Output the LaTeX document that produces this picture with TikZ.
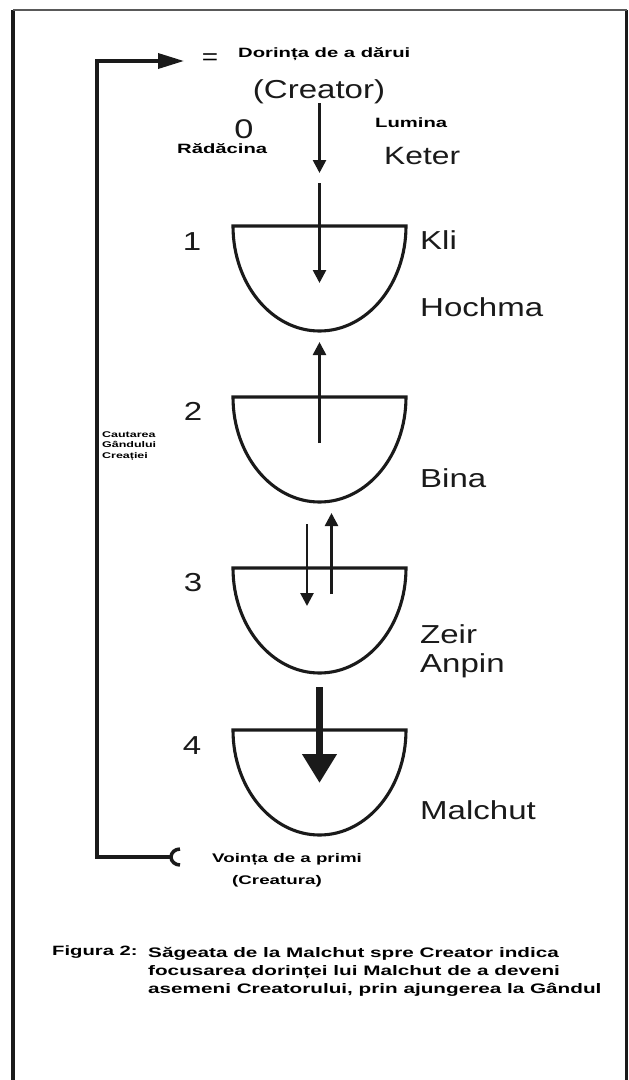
\documentclass[tikz,border=0pt]{standalone}
\usepackage{fontspec}
\setmainfont{Liberation Sans}[FakeStretch=1.27]
\newfontfamily\lblfont{Liberation Sans}[FakeStretch=1.5]
\usetikzlibrary{arrows.meta}
\definecolor{ink}{HTML}{1A1A1A}

\begin{document}
\begin{tikzpicture}[x=1pt, y=-1pt,
    big/.style={font=\fontsize{26}{29}\selectfont, inner sep=0pt, text=ink},
    lbl/.style={font=\lblfont\bfseries\fontsize{13.5}{18}\selectfont, inner sep=0pt},
    tiny/.style={font=\lblfont\bfseries\fontsize{8.3}{10.5}\selectfont, inner sep=0pt},
    cupline/.style={draw=ink, line width=3.1},
    ray/.style={draw=ink, line width=2.6, -{Triangle[length=13pt, width=13pt]}},
    loopline/.style={draw=ink, line width=3.5}
]
    \useasboundingbox (0,0) rectangle (629,1080);

    % frame
    \draw[draw=ink, line width=3.3] (13,10) -- (13,1080);
    \draw[draw=ink, line width=3.3] (626.5,10) -- (626.5,1080);
    \draw[draw=black!65, line width=1.2] (13,10) -- (626.5,10);

    % cups
    \tikzset{cup/.pic={
        \draw[cupline] (-86.5,0) -- (86.5,0)
            arc[start angle=0, end angle=180, x radius=86.5, y radius=105] -- cycle;
    }}
    \pic (kli1) at (319.5,226) {cup};
    \pic (kli2) at (319.5,397) {cup};
    \pic (kli3) at (319.5,568) {cup};
    \pic (kli4) at (319.5,730) {cup};

    % texts
    \node[font=\fontsize{22}{24}\selectfont, inner sep=0pt] (eq) at (210,59) {=};
    \node[lbl, anchor=base west] (give) at (238,57) {Dorința de a dărui};
    \node[big, anchor=base] (creator) at (319,98) {(Creator)};
    \node[big, anchor=base, font=\fontsize{27}{29}\selectfont] (n0) at (244,138) {0};
    \node[lbl, anchor=base west] (root) at (177,153) {Rădăcina};
    \node[lbl, anchor=base west] (light) at (375,127) {Lumina};
    \node[big, anchor=base west, font=\fontsize{25}{29}\selectfont] (keter) at (384,164) {Keter};

    \node[big, anchor=base] (n1) at (192,250) {1};
    \node[big, anchor=base west] (kli) at (420,249) {Kli};
    \node[big, anchor=base west] (hochma) at (420,316) {Hochma};
    \node[big, anchor=base] (n2) at (193,420) {2};
    \node[big, anchor=base west] (bina) at (420,487) {Bina};
    \node[big, anchor=base] (n3) at (193,591) {3};
    \node[big, anchor=base west] (zeir) at (420,643) {Zeir};
    \node[big, anchor=base west] (anpin) at (420,672) {Anpin};
    \node[big, anchor=base] (n4) at (192,754) {4};
    \node[big, anchor=base west] (malchut) at (420,819) {Malchut};

    \node[lbl, anchor=base west, font=\lblfont\bfseries\fontsize{12.5}{14}\selectfont] (receive) at (212,862) {Voința de a primi};
    \node[lbl, anchor=base west, font=\lblfont\bfseries\fontsize{12.5}{14}\selectfont] (creatura) at (232,884) {(Creatura)};
    \node[tiny, anchor=north west, align=left] (search) at (102,431) {Cautarea\\Gândului\\Creației};

    \node[lbl, anchor=base west] (fig) at (52,955) {Figura 2:};
    \node[lbl, anchor=north west, align=left, font=\lblfont\bfseries\fontsize{13.8}{18}\selectfont] (caption) at (148,947)
        {Săgeata de la Malchut spre Creator indica\\focusarea dorinței lui Malchut de a deveni\\asemeni Creatorului, prin ajungerea la Gândul};

    % arrows
    \coordinate (a0) at (319.5,103);  \coordinate (b0) at (319.5,173);
    \coordinate (a1) at (319.5,183);  \coordinate (b1) at (319.5,283);
    \coordinate (a2) at (319.5,443);  \coordinate (b2) at (319.5,342);
    \coordinate (a3) at (307,524);    \coordinate (b3) at (307,606);
    \coordinate (a4) at (331.5,594);  \coordinate (b4) at (331.5,513);
    \coordinate (a5) at (319.5,687);  \coordinate (b5) at (319.5,783);
    \draw[ray] (a0) -- (b0);
    \draw[ray] (a1) -- (b1);
    \draw[ray] (a2) -- (b2);
    \draw[ray] (a3) -- (b3);
    \draw[ray] (a4) -- (b4);
    \draw[draw=ink, line width=7.5, -{Triangle[length=29pt, width=33pt]}] (a5) -- (b5);

    % loop back to the creator
    \coordinate (recv) at (171,857);
    \coordinate (giveend) at (184,61);
    \draw[loopline, -{Triangle[length=26pt, width=15pt]}] (recv) -- (97,857) |- (giveend);
    \draw[loopline] (180,849) arc[start angle=270, end angle=90, x radius=9, y radius=8];
\end{tikzpicture}
\end{document}
